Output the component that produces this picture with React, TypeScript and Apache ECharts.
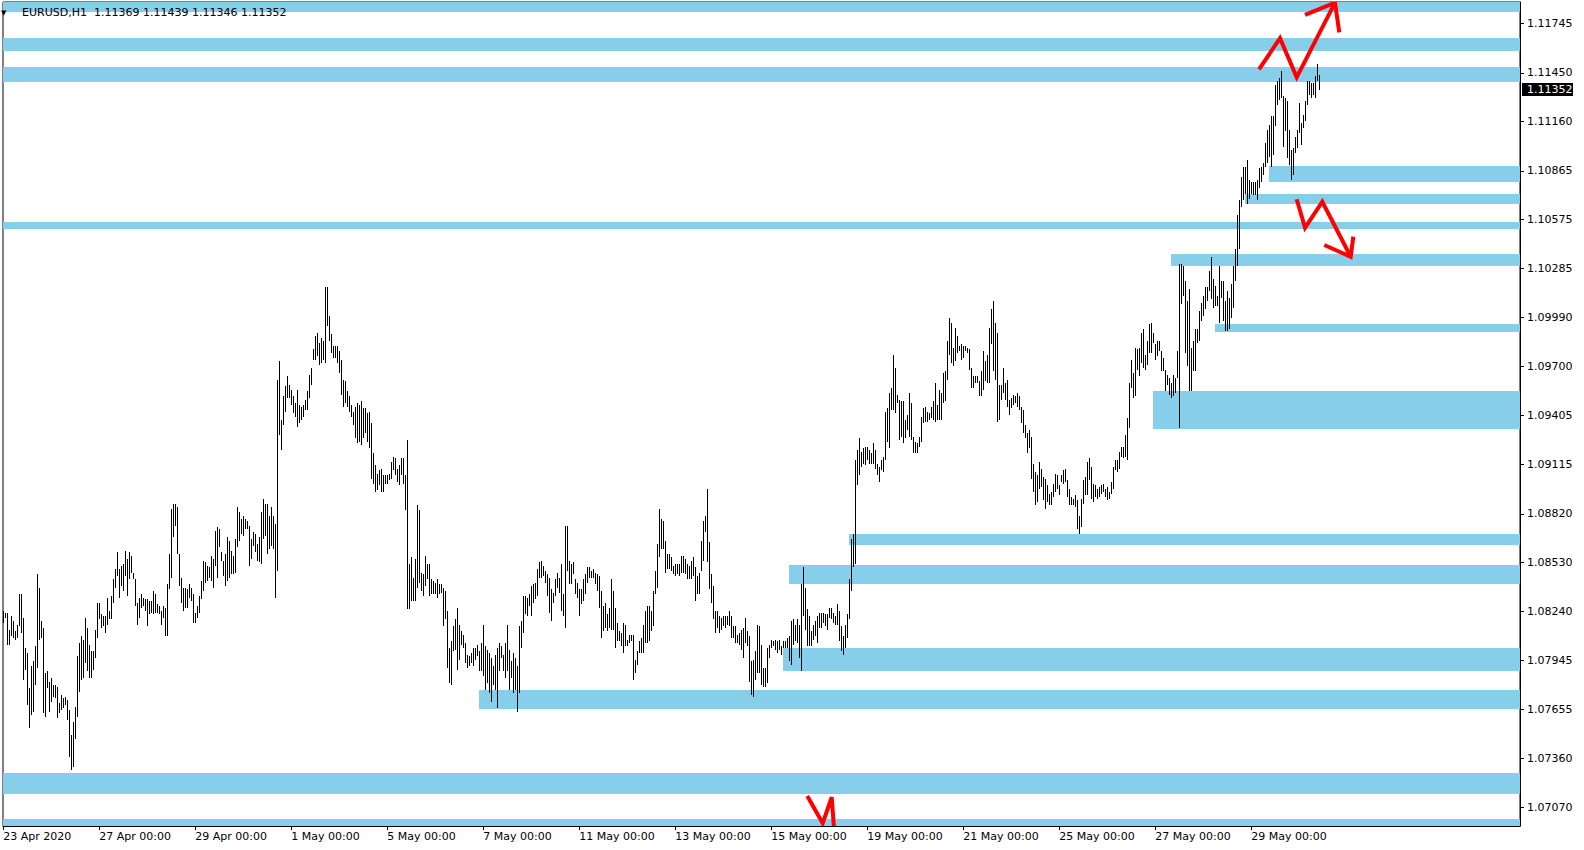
import React, { useEffect, useRef } from "react";
import * as echarts from "echarts";

// ---- Data (EURUSD H1, one entry per hourly bar) ----
const highs: number[] = [
  1.0824,1.0823,1.0823,1.0813,1.0821,1.0818,1.0812,1.0816,1.0834,1.0834,
  1.0820,1.0802,1.0799,1.0778,1.0791,1.0794,1.0803,1.0846,1.0838,1.0818,
  1.0814,1.0787,1.0788,1.0782,1.0784,1.0780,1.0780,1.0779,1.0769,1.0774,
  1.0772,1.0773,1.0771,1.0765,1.0750,1.0758,1.0767,1.0797,1.0805,1.0809,
  1.0807,1.0820,1.0814,1.0804,1.0800,1.0800,1.0813,1.0829,1.0829,1.0822,
  1.0821,1.0821,1.0832,1.0824,1.0833,1.0843,1.0849,1.0859,1.0849,1.0851,
  1.0852,1.0860,1.0855,1.0859,1.0857,1.0847,1.0843,1.0829,1.0832,1.0834,
  1.0832,1.0831,1.0831,1.0830,1.0830,1.0836,1.0834,1.0828,1.0827,1.0824,
  1.0827,1.0826,1.0840,1.0858,1.0885,1.0888,1.0888,1.0886,1.0858,1.0844,
  1.0838,1.0838,1.0837,1.0840,1.0838,1.0834,1.0823,1.0827,1.0833,1.0842,
  1.0854,1.0853,1.0851,1.0850,1.0857,1.0855,1.0872,1.0874,1.0873,1.0859,
  1.0854,1.0858,1.0868,1.0866,1.0860,1.0857,1.0867,1.0886,1.0883,1.0879,
  1.0881,1.0879,1.0878,1.0875,1.0867,1.0871,1.0870,1.0864,1.0868,1.0883,
  1.0891,1.0888,1.0888,1.0881,1.0886,1.0881,1.0876,1.0962,1.0973,1.0938,
  1.0952,1.0958,1.0964,1.0959,1.0956,1.0952,1.0948,1.0956,1.0947,1.0946,
  1.0947,1.0950,1.0955,1.0965,1.0969,1.0980,1.0988,1.0990,1.0984,1.0987,
  1.0985,1.1017,1.1017,1.1000,1.0989,1.0982,1.0982,1.0982,1.0979,1.0974,
  1.0962,1.0961,1.0955,1.0952,1.0947,1.0943,1.0946,1.0948,1.0947,1.0949,
  1.0945,1.0945,1.0942,1.0943,1.0936,1.0918,1.0911,1.0906,1.0908,1.0909,
  1.0905,1.0905,1.0905,1.0906,1.0913,1.0916,1.0915,1.0909,1.0911,1.0915,
  1.0915,1.0905,1.0926,1.0852,1.0856,1.0844,1.0855,1.0887,1.0884,1.0847,
  1.0846,1.0857,1.0852,1.0852,1.0843,1.0842,1.0841,1.0843,1.0840,1.0840,
  1.0838,1.0836,1.0824,1.0802,1.0806,1.0815,1.0819,1.0826,1.0816,1.0812,
  1.0810,1.0805,1.0798,1.0797,1.0799,1.0802,1.0802,1.0804,1.0800,1.0805,
  1.0816,1.0803,1.0801,1.0799,1.0796,1.0791,1.0798,1.0802,1.0805,1.0803,
  1.0798,1.0805,1.0816,1.0801,1.0794,1.0799,1.0796,1.0791,1.0815,1.0818,
  1.0833,1.0833,1.0832,1.0834,1.0839,1.0840,1.0841,1.0849,1.0853,1.0854,
  1.0851,1.0848,1.0846,1.0844,1.0837,1.0835,1.0843,1.0847,1.0844,1.0852,
  1.0834,1.0875,1.0875,1.0854,1.0852,1.0853,1.0843,1.0841,1.0837,1.0837,
  1.0843,1.0846,1.0850,1.0850,1.0848,1.0849,1.0847,1.0846,1.0845,1.0836,
  1.0827,1.0829,1.0822,1.0826,1.0843,1.0836,1.0826,1.0817,1.0812,1.0811,
  1.0817,1.0816,1.0807,1.0810,1.0810,1.0810,1.0795,1.0800,1.0806,1.0808,
  1.0816,1.0824,1.0827,1.0827,1.0824,1.0836,1.0848,1.0864,1.0885,1.0879,
  1.0878,1.0866,1.0858,1.0858,1.0856,1.0851,1.0852,1.0852,1.0852,1.0857,
  1.0857,1.0855,1.0852,1.0851,1.0854,1.0856,1.0850,1.0845,1.0847,1.0866,
  1.0878,1.0881,1.0897,1.0865,1.0846,1.0839,1.0824,1.0824,1.0821,1.0820,
  1.0821,1.0821,1.0821,1.0824,1.0821,1.0815,1.0815,1.0810,1.0811,1.0813,
  1.0814,1.0820,1.0812,1.0809,1.0794,1.0795,1.0800,1.0816,1.0815,1.0804,
  1.0790,1.0790,1.0802,1.0804,1.0807,1.0806,1.0807,1.0806,1.0807,1.0803,
  1.0806,1.0806,1.0808,1.0809,1.0818,1.0819,1.0816,1.0819,1.0816,1.0840,
  1.0850,1.0838,1.0825,1.0821,1.0812,1.0816,1.0818,1.0821,1.0823,1.0823,
  1.0823,1.0822,1.0822,1.0826,1.0826,1.0823,1.0821,1.0828,1.0824,1.0815,
  1.0809,1.0816,1.0822,1.0843,1.0867,1.0870,1.0914,1.0920,1.0927,1.0919,
  1.0921,1.0922,1.0922,1.0920,1.0918,1.0924,1.0920,1.0912,1.0910,1.0914,
  1.0916,1.0943,1.0945,1.0954,1.0957,1.0977,1.0969,1.0953,1.0950,1.0949,
  1.0949,1.0938,1.0941,1.0954,1.0948,1.0928,1.0925,1.0924,1.0928,1.0940,
  1.0945,1.0946,1.0943,1.0942,1.0946,1.0949,1.0960,1.0947,1.0956,1.0954,
  1.0966,1.0967,1.0985,1.0999,1.0996,1.0981,1.0993,1.0988,1.0982,1.0983,
  1.0982,1.0982,1.0981,1.0980,1.0969,1.0964,1.0964,1.0964,1.0961,1.0967,
  1.0979,1.0973,1.0977,1.0993,1.1004,1.1009,1.0996,1.0990,1.0959,1.0959,
  1.0969,1.0960,1.0962,1.0950,1.0951,1.0953,1.0952,1.0954,1.0952,1.0946,
  1.0944,1.0935,1.0930,1.0932,1.0928,1.0912,1.0907,1.0905,1.0913,1.0909,
  1.0904,1.0903,1.0899,1.0894,1.0895,1.0900,1.0906,1.0905,1.0899,1.0905,
  1.0908,1.0909,1.0902,1.0897,1.0892,1.0891,1.0893,1.0890,1.0881,1.0891,
  1.0902,1.0904,1.0913,1.0915,1.0910,1.0900,1.0899,1.0897,1.0898,1.0899,
  1.0900,1.0897,1.0898,1.0895,1.0901,1.0910,1.0914,1.0914,1.0919,1.0922,
  1.0922,1.0929,1.0939,1.0960,1.0974,1.0966,1.0981,1.0980,1.0981,1.0990,
  1.0992,1.0977,1.0985,1.0995,1.0996,1.0990,1.0983,1.0985,1.0985,1.0979,
  1.0975,1.0968,1.0965,1.0963,1.0960,1.0965,1.0963,1.0979,1.1031,1.1031,
  1.1030,1.1021,1.1009,1.1016,1.0981,1.0985,1.0992,1.0992,1.1003,1.1008,
  1.1012,1.1017,1.1017,1.1027,1.1035,1.1022,1.1018,1.1012,1.1030,1.1021,
  1.1021,1.1009,1.1015,1.1011,1.1019,1.1030,1.1040,1.1060,1.1069,1.1083,
  1.1089,1.1089,1.1093,1.1081,1.1080,1.1080,1.1080,1.1081,1.1088,1.1089,
  1.1091,1.1103,1.1111,1.1114,1.1119,1.1119,1.1138,1.1140,1.1142,1.1146,
  1.1131,1.1130,1.1128,1.1111,1.1099,1.1100,1.1107,1.1111,1.1127,1.1115,
  1.1120,1.1128,1.1140,1.1140,1.1139,1.1139,1.1143,1.1150,1.11439,
];
const lows: number[] = [
  1.0817,1.0820,1.0804,1.0804,1.0809,1.0808,1.0807,1.0808,1.0815,1.0811,
  1.0783,1.0789,1.0768,1.0754,1.0762,1.0764,1.0780,1.0790,1.0807,1.0808,
  1.0763,1.0761,1.0778,1.0764,1.0770,1.0773,1.0772,1.0760,1.0763,1.0765,
  1.0766,1.0768,1.0759,1.0737,1.0729,1.0731,1.0748,1.0761,1.0776,1.0783,
  1.0784,1.0793,1.0788,1.0784,1.0784,1.0789,1.0796,1.0808,1.0819,1.0814,
  1.0815,1.0811,1.0816,1.0819,1.0819,1.0829,1.0838,1.0845,1.0832,1.0839,
  1.0836,1.0845,1.0833,1.0843,1.0847,1.0843,1.0827,1.0816,1.0820,1.0826,
  1.0827,1.0824,1.0815,1.0822,1.0823,1.0822,1.0823,1.0823,1.0822,1.0816,
  1.0820,1.0809,1.0809,1.0837,1.0844,1.0868,1.0875,1.0858,1.0839,1.0829,
  1.0824,1.0826,1.0826,1.0832,1.0830,1.0817,1.0817,1.0820,1.0823,1.0831,
  1.0836,1.0841,1.0842,1.0844,1.0842,1.0838,1.0851,1.0844,1.0862,1.0854,
  1.0845,1.0839,1.0842,1.0844,1.0846,1.0846,1.0847,1.0862,1.0866,1.0870,
  1.0869,1.0873,1.0873,1.0851,1.0855,1.0863,1.0859,1.0854,1.0853,1.0852,
  1.0867,1.0869,1.0858,1.0861,1.0863,1.0861,1.0832,1.0848,1.0929,1.0920,
  1.0935,1.0943,1.0951,1.0951,1.0947,1.0942,1.0940,1.0934,1.0936,1.0938,
  1.0940,1.0944,1.0944,1.0951,1.0959,1.0974,1.0974,1.0976,1.0971,1.0972,
  1.0974,1.0972,1.0994,1.0985,1.0978,1.0975,1.0975,1.0972,1.0966,1.0953,
  1.0946,1.0948,1.0946,1.0943,1.0940,1.0935,1.0927,1.0924,1.0925,1.0923,
  1.0927,1.0930,1.0925,1.0921,1.0903,1.0900,1.0895,1.0896,1.0899,1.0895,
  1.0895,1.0900,1.0900,1.0902,1.0903,1.0908,1.0905,1.0901,1.0899,1.0905,
  1.0900,1.0884,1.0825,1.0825,1.0830,1.0830,1.0830,1.0838,1.0841,1.0836,
  1.0833,1.0839,1.0843,1.0833,1.0834,1.0834,1.0834,1.0832,1.0834,1.0835,
  1.0815,1.0819,1.0790,1.0781,1.0780,1.0800,1.0801,1.0789,1.0795,1.0804,
  1.0802,1.0793,1.0790,1.0791,1.0793,1.0791,1.0795,1.0797,1.0788,1.0788,
  1.0785,1.0777,1.0781,1.0775,1.0770,1.0780,1.0777,1.0766,1.0788,1.0796,
  1.0788,1.0784,1.0788,1.0777,1.0784,1.0775,1.0777,1.0764,1.0775,1.0802,
  1.0811,1.0822,1.0821,1.0827,1.0821,1.0829,1.0831,1.0833,1.0844,1.0844,
  1.0845,1.0841,1.0833,1.0823,1.0818,1.0829,1.0833,1.0838,1.0835,1.0824,
  1.0821,1.0814,1.0848,1.0840,1.0840,1.0846,1.0834,1.0832,1.0821,1.0828,
  1.0830,1.0834,1.0841,1.0844,1.0844,1.0844,1.0840,1.0836,1.0826,1.0808,
  1.0812,1.0814,1.0812,1.0814,1.0813,1.0813,1.0802,1.0806,1.0806,1.0803,
  1.0799,1.0803,1.0803,1.0805,1.0806,1.0783,1.0787,1.0792,1.0799,1.0799,
  1.0799,1.0805,1.0805,1.0806,1.0812,1.0815,1.0834,1.0838,1.0856,1.0861,
  1.0861,1.0847,1.0849,1.0849,1.0848,1.0846,1.0845,1.0846,1.0845,1.0847,
  1.0847,1.0846,1.0843,1.0843,1.0843,1.0845,1.0830,1.0834,1.0834,1.0848,
  1.0854,1.0871,1.0853,1.0837,1.0829,1.0819,1.0811,1.0814,1.0811,1.0813,
  1.0815,1.0814,1.0816,1.0815,1.0808,1.0808,1.0805,1.0805,1.0804,1.0801,
  1.0796,1.0805,1.0803,1.0782,1.0774,1.0773,1.0783,1.0787,1.0787,1.0780,
  1.0779,1.0779,1.0781,1.0796,1.0802,1.0803,1.0801,1.0799,1.0801,1.0798,
  1.0802,1.0802,1.0802,1.0794,1.0792,1.0804,1.0806,1.0805,1.0796,1.0788,
  1.0821,1.0813,1.0803,1.0803,1.0803,1.0807,1.0809,1.0805,1.0814,1.0814,
  1.0817,1.0815,1.0813,1.0820,1.0819,1.0817,1.0816,1.0816,1.0806,1.0800,
  1.0798,1.0802,1.0808,1.0819,1.0836,1.0850,1.0852,1.0899,1.0905,1.0910,
  1.0912,1.0911,1.0914,1.0912,1.0912,1.0912,1.0909,1.0905,1.0901,1.0908,
  1.0907,1.0914,1.0925,1.0921,1.0944,1.0944,1.0942,1.0948,1.0926,1.0928,
  1.0924,1.0927,1.0932,1.0928,1.0926,1.0918,1.0918,1.0918,1.0922,1.0925,
  1.0936,1.0937,1.0937,1.0938,1.0939,1.0938,1.0937,1.0938,1.0938,1.0938,
  1.0948,1.0949,1.0962,1.0977,1.0972,1.0970,1.0973,1.0978,1.0979,1.0974,
  1.0975,1.0979,1.0978,1.0968,1.0957,1.0957,1.0960,1.0960,1.0952,1.0952,
  1.0956,1.0961,1.0960,1.0960,1.0983,1.0967,1.0962,1.0937,1.0938,1.0950,
  1.0954,1.0950,1.0946,1.0941,1.0945,1.0947,1.0948,1.0946,1.0944,1.0936,
  1.0930,1.0927,1.0918,1.0921,1.0903,1.0895,1.0887,1.0889,1.0897,1.0898,
  1.0890,1.0885,1.0889,1.0887,1.0887,1.0892,1.0895,1.0897,1.0893,1.0901,
  1.0900,1.0901,1.0892,1.0887,1.0887,1.0887,1.0886,1.0873,1.0870,1.0874,
  1.0888,1.0893,1.0893,1.0902,1.0891,1.0889,1.0892,1.0891,1.0892,1.0894,
  1.0895,1.0892,1.0890,1.0891,1.0894,1.0897,1.0908,1.0907,1.0909,1.0916,
  1.0915,1.0916,1.0914,1.0933,1.0957,1.0951,1.0952,1.0968,1.0964,1.0972,
  1.0969,1.0968,1.0971,1.0978,1.0978,1.0984,1.0974,1.0976,1.0979,1.0967,
  1.0967,1.0955,1.0959,1.0953,1.0951,1.0952,1.0954,1.0963,1.0933,1.1007,
  1.1012,1.0978,1.0970,1.0955,1.0955,1.0967,1.0967,1.0984,1.0985,1.0997,
  1.1000,1.1004,1.1009,1.1015,1.1010,1.1005,1.1006,1.1006,1.0996,1.1011,
  1.0997,1.0991,1.0991,1.0992,1.0999,1.1005,1.1021,1.1030,1.1040,1.1065,
  1.1069,1.1073,1.1067,1.1070,1.1073,1.1072,1.1072,1.1069,1.1076,1.1080,
  1.1084,1.1089,1.1091,1.1095,1.1089,1.1096,1.1113,1.1126,1.1129,1.1130,
  1.1101,1.1110,1.1094,1.1090,1.1081,1.1084,1.1097,1.1100,1.1109,1.1102,
  1.1112,1.1116,1.1126,1.1132,1.1130,1.1132,1.1130,1.1140,1.11346,
];

const symbolTitle = "EURUSD,H1";
const lastBarOHLC = [1.11369, 1.11439, 1.11346, 1.11352];

const xLabelIndex = [0, 48, 96, 144, 192, 240, 288, 336, 384, 432, 480, 528, 576, 624];
const xLabelText = [
  "23 Apr 2020", "27 Apr 00:00", "29 Apr 00:00", "1 May 00:00", "5 May 00:00",
  "7 May 00:00", "11 May 00:00", "13 May 00:00", "15 May 00:00", "19 May 00:00",
  "21 May 00:00", "25 May 00:00", "27 May 00:00", "29 May 00:00",
];
const yTicks = [
  1.0707, 1.0736, 1.07655, 1.07945, 1.0824, 1.0853, 1.0882, 1.09115, 1.09405,
  1.097, 1.0999, 1.10285, 1.10575, 1.10865, 1.1116, 1.1145, 1.11745,
];

// Support / resistance zones (start bar index, -1 = from the left edge)
const zoneStart = [-1, -1, -1, 633, 621, -1, 584, 606, 575, 423, 393, 390, 238, -1, -1];
const zoneTop = [1.1195, 1.11656, 1.11486, 1.10893, 1.10726, 1.10561, 1.10368, 1.0995, 1.0955, 1.08702, 1.08513, 1.0802, 1.07768, 1.07273, 1.06999];
const zoneBottom = [1.11814, 1.11582, 1.11393, 1.10799, 1.10668, 1.10519, 1.10298, 1.09904, 1.09325, 1.08633, 1.08402, 1.07882, 1.07656, 1.07149, 1.069];

// Hand-drawn red arrows: [bar index, price] points
const arrowUpShaft = [[627.85, 1.11471], [638.35, 1.11656], [646.7, 1.11423], [665.85, 1.11868]];
const arrowUpHead = [[650.85, 1.11795], [665.85, 1.11868], [668, 1.11691]];
const arrowDownShaft = [[646.7, 1.10696], [650.85, 1.10526], [659.5, 1.10681], [673.7, 1.10353]];
const arrowDownHead = [[660.5, 1.10423], [673.7, 1.10353], [675, 1.10473]];
const arrowBottom = [[402, 1.07137], [409.7, 1.06975], [414.2, 1.0713], [415.5, 1.0692]];
const arrowLines = [arrowUpShaft, arrowUpHead, arrowDownShaft, arrowDownHead, arrowBottom];

const X_MIN = -0.15;
const X_MAX = 758.35;
const Y_MIN = 1.069585;
const Y_MAX = 1.118721;
const FONT = '"DejaVu Sans", sans-serif';

export default function App() {
  const ref = useRef<HTMLDivElement>(null);

  useEffect(() => {
    if (!ref.current) return;
    const chart = echarts.init(ref.current, undefined, { renderer: "svg" });

    const barData = highs.map((h, i) => [i, h, lows[i]]);
    const zoneData = zoneStart.map((s, k) => [s, zoneTop[k], zoneBottom[k]]);
    const lastClose = lastBarOHLC[3];

    const option: any = {
      animation: false,
      backgroundColor: "#ffffff",
      grid: {
        left: 3, top: 2, width: 1517, height: 824,
        show: true, borderColor: "#000", borderWidth: 1, backgroundColor: "#fff",
      },
      xAxis: {
        type: "value", min: X_MIN, max: X_MAX, position: "bottom",
        axisLine: { show: true, onZero: false, lineStyle: { color: "#000", width: 1 } },
        axisTick: { show: true, length: 4, lineStyle: { color: "#000" }, customValues: xLabelIndex },
        axisLabel: {
          show: true, customValues: xLabelIndex, color: "#000", fontFamily: FONT, fontSize: 11,
          align: "left", margin: 5,
          formatter: (v: number) => {
            const k = xLabelIndex.indexOf(Math.round(v));
            return k >= 0 ? xLabelText[k] : "";
          },
        },
        splitLine: { show: false },
      },
      yAxis: {
        type: "value", min: Y_MIN, max: Y_MAX, position: "right", scale: true,
        axisLine: { show: true, onZero: false, lineStyle: { color: "#000", width: 1 } },
        axisTick: { show: true, length: 4, lineStyle: { color: "#000" }, customValues: yTicks },
        axisLabel: {
          show: true, customValues: yTicks, color: "#000", fontFamily: FONT, fontSize: 11, margin: 7,
          formatter: (v: number) => v.toFixed(5),
        },
        splitLine: { show: false },
      },
      graphic: [
        { type: "text", z: 100, x: 1, y: 12.5, style: { text: "\u25BC", fill: "#000", font: `7px ${FONT}`, verticalAlign: "middle" } },
        { type: "text", z: 100, x: 22, y: 12.5, style: { text: symbolTitle, fill: "#000", font: `11px ${FONT}`, verticalAlign: "middle" } },
        { type: "text", z: 100, x: 94, y: 12.5, style: { text: lastBarOHLC.map((v) => v.toFixed(5)).join(" "), fill: "#000", font: `11px ${FONT}`, verticalAlign: "middle" } },
      ],
      series: [
        {
          type: "custom", name: "zones", z: 1, silent: true, clip: true,
          data: zoneData,
          renderItem: (params: any, api: any) => {
            const cs = params.coordSys;
            const s = api.value(0);
            const p1 = api.coord([s < 0 ? X_MIN : s, api.value(1)]);
            const p2 = api.coord([X_MAX, api.value(2)]);
            const x1 = Math.max(cs.x, Math.round(p1[0]));
            const x2 = cs.x + cs.width;
            const y1 = Math.max(cs.y, Math.round(p1[1]));
            const y2 = Math.min(cs.y + cs.height, Math.round(p2[1]));
            return { type: "rect", shape: { x: x1, y: y1, width: x2 - x1, height: y2 - y1 }, style: { fill: "#87CEEB" } };
          },
        },
        {
          type: "custom", name: "bars", z: 2, silent: true,
          data: barData,
          renderItem: (params: any, api: any) => {
            const x = api.value(0);
            const top = api.coord([x, api.value(1)]);
            const bot = api.coord([x, api.value(2)]);
            const px = Math.round(top[0]) + 0.5;
            const y1 = Math.round(top[1]);
            let y2 = Math.round(bot[1]);
            if (y2 - y1 < 1) y2 = y1 + 1;
            return { type: "line", shape: { x1: px, y1, x2: px, y2 }, style: { stroke: "#000", lineWidth: 1 } };
          },
        },
        {
          type: "custom", name: "arrows", z: 3, silent: true, clip: true,
          data: arrowLines.map((l) => l[0]),
          renderItem: (params: any, api: any) => {
            const pts = arrowLines[params.dataIndex].map((p) => api.coord(p));
            return { type: "polyline", shape: { points: pts }, style: { stroke: "#FF0000", lineWidth: 4, fill: null, lineJoin: "miter" } };
          },
        },
        {
          type: "custom", name: "price", z: 4, silent: true, clip: false,
          data: [[X_MAX, lastClose]],
          renderItem: (params: any, api: any) => {
            const cs = params.coordSys;
            const y = Math.round(api.coord([X_MAX, api.value(1)])[1]);
            const x = cs.x + cs.width;
            return {
              type: "group",
              children: [
                { type: "rect", shape: { x: x + 2, y: y - 6, width: 51, height: 13 }, style: { fill: "#000" } },
                { type: "text", x: x + 7, y: y + 0.5, style: { text: lastClose.toFixed(5), fill: "#fff", font: `11px ${FONT}`, verticalAlign: "middle" } },
              ],
            };
          },
        },
      ],
    };

    chart.setOption(option);
    return () => chart.dispose();
  }, []);

  return <div ref={ref} style={{ position: "absolute", left: 0, top: 0, width: 1584, height: 850 }} />;
}
